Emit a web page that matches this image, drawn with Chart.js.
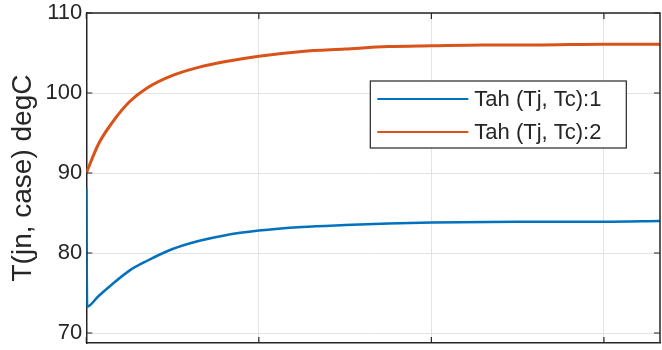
<!DOCTYPE html>
<html>
<head>
<meta charset="utf-8">
<script src="https://cdn.jsdelivr.net/npm/chart.js@4.4.1/dist/chart.umd.min.js"></script>
<style>
  html, body { margin: 0; padding: 0; background: #fff; }
  #wrap { width: 662px; height: 350px; }
</style>
</head>
<body>
<div id="wrap"><canvas id="myChart"></canvas></div>
<script>
// time axis (grid units)
const tBlue   = [0, 0.005, 0.07, 0.15, 0.25, 0.35, 0.5, 0.65, 0.8, 1.0, 1.25, 1.5, 1.75, 2.0, 2.5, 3.0, 3.33];
const tahBlue = [88.1, 73.3, 74.6, 76.1, 77.8, 79.0, 80.5, 81.5, 82.2, 82.8, 83.25, 83.5, 83.7, 83.8, 83.9, 83.9, 84.0];

const tOrange   = [0, 0.07, 0.15, 0.25, 0.35, 0.5, 0.65, 0.8, 1.0, 1.25, 1.5, 1.75, 2.0, 2.3, 2.6, 3.0, 3.33];
const tahOrange = [90.0, 93.6, 96.3, 98.9, 100.6, 102.2, 103.2, 103.9, 104.6, 105.2, 105.5, 105.8, 105.9, 106.0, 106.0, 106.1, 106.1];

const labels = ['Tah (Tj, Tc):1', 'Tah (Tj, Tc):2'];
const yTicks = [70, 80, 90, 100, 110];
const xTicks = [0, 1, 2, 3];

const ink = '#262626';
const fontName = '"Liberation Sans", Arial, sans-serif';

const pts = (xs, ys) => xs.map((x, i) => ({ x: x, y: ys[i] }));

// box + inward ticks like matlab axes
const frame = {
    id: 'frame',
    afterDatasetsDraw(chart) {
        const { ctx, chartArea: a, scales } = chart;
        ctx.save();
        ctx.strokeStyle = ink;
        ctx.lineWidth = 1.5;
        ctx.beginPath();
        ctx.moveTo(a.left, a.top);
        ctx.lineTo(a.right, a.top);
        ctx.lineTo(a.right, a.bottom);
        ctx.stroke();
        ctx.lineWidth = 1.2;
        ctx.beginPath();
        yTicks.forEach(v => {
            const y = scales.y.getPixelForValue(v);
            ctx.moveTo(a.left, y); ctx.lineTo(a.left + 6, y);
            ctx.moveTo(a.right, y); ctx.lineTo(a.right - 6, y);
        });
        xTicks.forEach(v => {
            const x = scales.x.getPixelForValue(v);
            ctx.moveTo(x, a.bottom); ctx.lineTo(x, a.bottom - 6);
            ctx.moveTo(x, a.top); ctx.lineTo(x, a.top + 6);
        });
        ctx.stroke();
        ctx.restore();
    }
};

// legend box drawn inside the axes
const boxLegend = {
    id: 'boxLegend',
    afterDatasetsDraw(chart) {
        const { ctx, chartArea: a } = chart;
        const left = a.left + 284, top = a.top + 68, w = 256, h = 67;
        ctx.save();
        ctx.fillStyle = '#fff';
        ctx.fillRect(left, top, w, h);
        ctx.strokeStyle = ink;
        ctx.lineWidth = 1.2;
        ctx.strokeRect(left, top, w, h);
        ctx.font = '22px ' + fontName;
        ctx.textBaseline = 'middle';
        chart.data.datasets.forEach((ds, i) => {
            const y = top + 18 + i * 33;
            ctx.strokeStyle = ds.borderColor;
            ctx.lineWidth = 2;
            ctx.beginPath();
            ctx.moveTo(left + 7, y);
            ctx.lineTo(left + 98, y);
            ctx.stroke();
            ctx.fillStyle = ink;
            ctx.fillText(ds.label, left + 104, y + 1);
        });
        ctx.restore();
    }
};

const ctx = document.getElementById('myChart').getContext('2d');
new Chart(ctx, {
    type: 'line',
    data: {
        datasets: [
            {
                label: labels[0],
                data: pts(tBlue, tahBlue),
                borderColor: '#0072BD',
                borderWidth: 2.5,
                pointRadius: 0,
                cubicInterpolationMode: 'monotone'
            },
            {
                label: labels[1],
                data: pts(tOrange, tahOrange),
                borderColor: '#D95319',
                borderWidth: 3,
                pointRadius: 0,
                cubicInterpolationMode: 'monotone'
            }
        ]
    },
    options: {
        responsive: true,
        maintainAspectRatio: false,
        animation: false,
        layout: { padding: { left: 6, right: 2, top: 13, bottom: 7 } },
        plugins: {
            legend: { display: false },
            tooltip: { enabled: false }
        },
        scales: {
            x: {
                type: 'linear',
                min: 0,
                max: 3.325,
                afterBuildTicks: s => { s.ticks = xTicks.map(v => ({ value: v })); },
                ticks: { display: false },
                grid: { color: '#e3e3e3', lineWidth: 1, drawTicks: false },
                border: { color: ink, width: 1.5 }
            },
            y: {
                min: 68.75,
                max: 110,
                afterBuildTicks: s => { s.ticks = yTicks.map(v => ({ value: v })); },
                afterFit: s => { s.paddingTop = 0; s.paddingBottom = 0; },
                ticks: {
                    color: ink,
                    padding: 4,
                    font: { family: fontName, size: 22 }
                },
                grid: { color: '#e3e3e3', lineWidth: 1, drawTicks: false },
                border: { color: ink, width: 1.5 },
                title: {
                    display: true,
                    text: 'T(jn, case) degC',
                    color: ink,
                    font: { family: fontName, size: 28 },
                    padding: { top: 0, bottom: 2 }
                }
            }
        }
    },
    plugins: [frame, boxLegend]
});
</script>
</body>
</html>
